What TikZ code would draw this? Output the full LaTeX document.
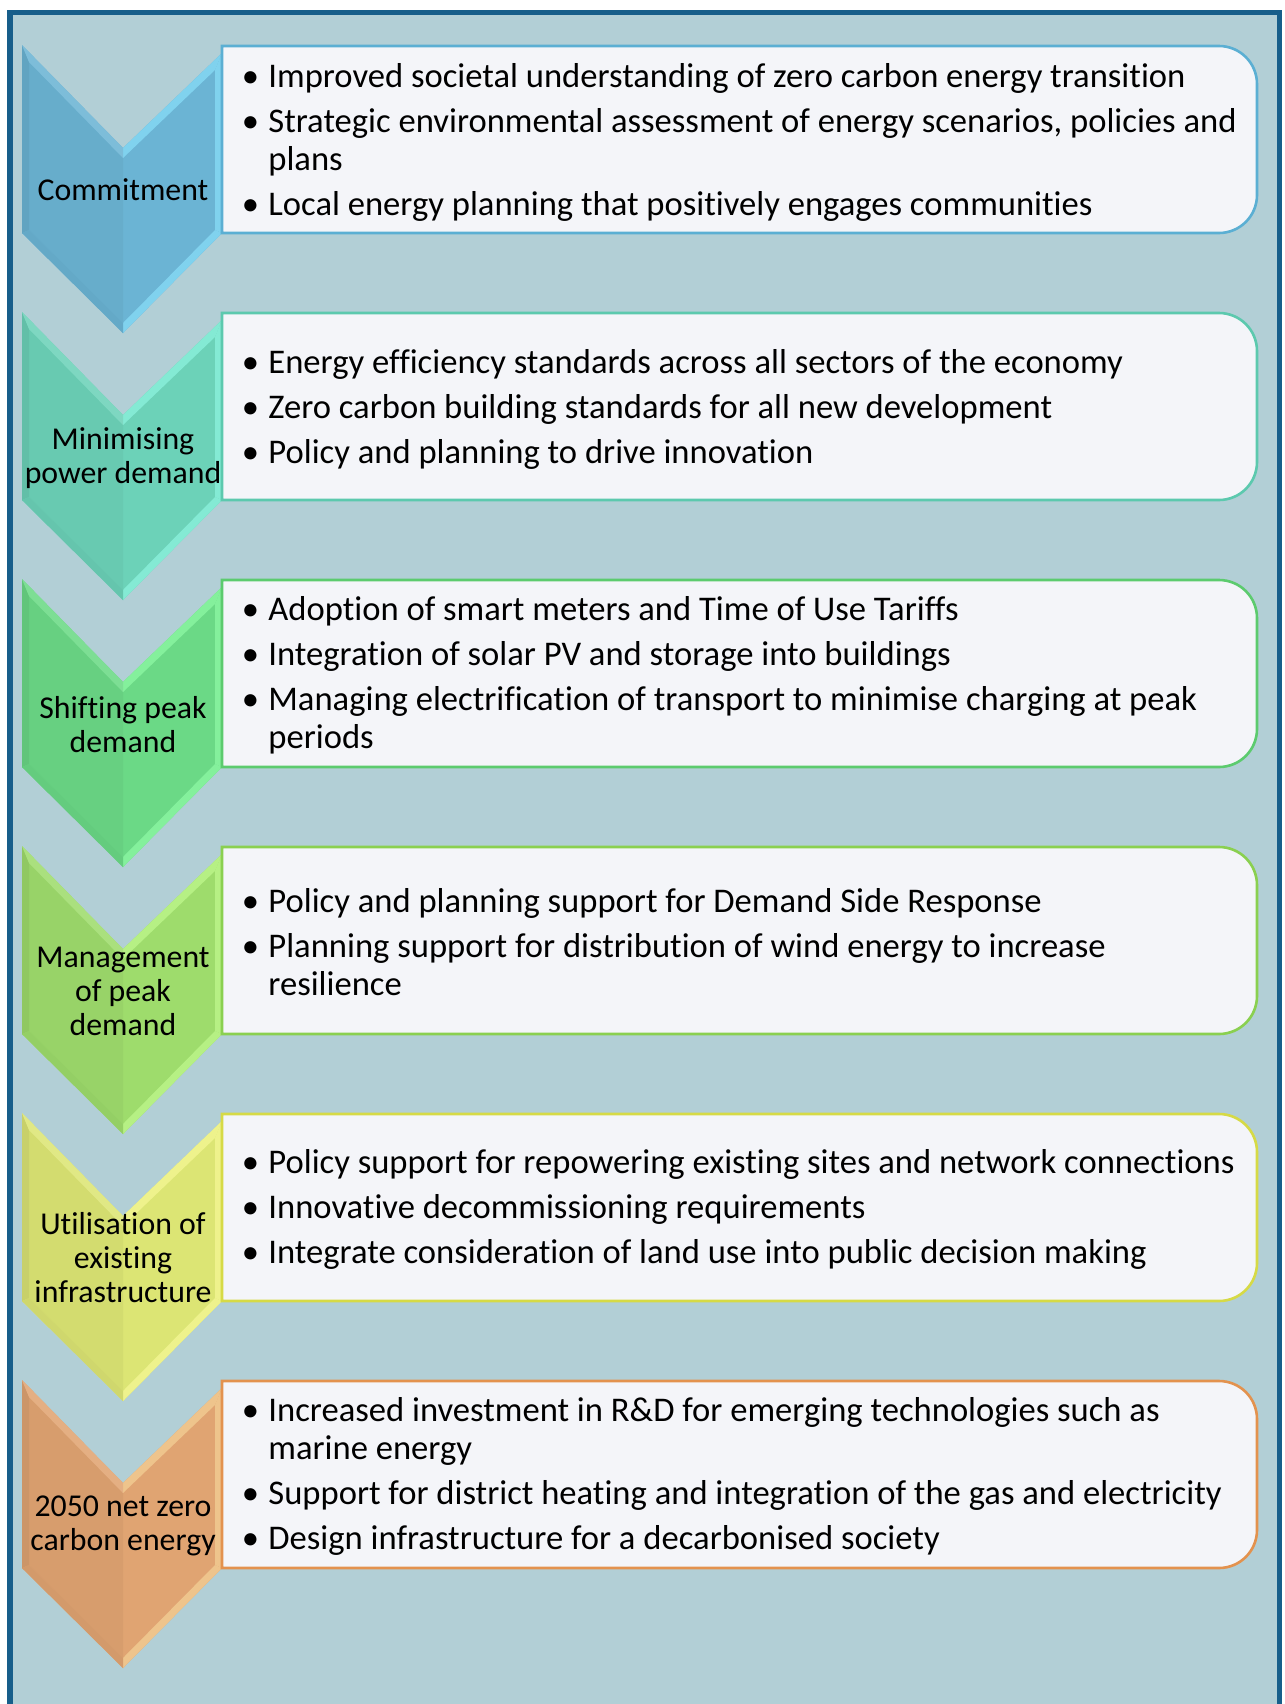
\documentclass[tikz,border=0pt]{standalone}
\usepackage{fontspec}
\setmainfont{Carlito}[Ligatures={NoCommon}]
\definecolor{framecol}{HTML}{175E8A}
\definecolor{bgcol}{HTML}{B2CFD6}
\definecolor{boxfill}{HTML}{F4F5F9}
\definecolor{mA}{HTML}{6BB4D4}\definecolor{hA}{HTML}{80D2EE}\definecolor{bA}{HTML}{5BAFD3}
\definecolor{mB}{HTML}{6CD2B8}\definecolor{hB}{HTML}{84EAD4}\definecolor{bB}{HTML}{5CC9AE}
\definecolor{mC}{HTML}{6BD986}\definecolor{hC}{HTML}{84F09C}\definecolor{bC}{HTML}{5CCB6E}
\definecolor{mD}{HTML}{9EDC6C}\definecolor{hD}{HTML}{B6F084}\definecolor{bD}{HTML}{8AD050}
\definecolor{mE}{HTML}{DCE574}\definecolor{hE}{HTML}{EEF28C}\definecolor{bE}{HTML}{D6DA46}
\definecolor{mF}{HTML}{E0A472}\definecolor{hF}{HTML}{EEC48C}\definecolor{bF}{HTML}{E3924E}
\newcommand\chevshape[3]{%
 \fill[#2] (22,#1) -- (123,#1+103) -- (222,#1+8) -- (222,#1+188) -- (123,#1+288) -- (22,#1+188) -- cycle;
 \fill[#2!96!black] (29,#1+17) -- (123,#1+113) -- (123,#1+278) -- (29,#1+185) -- cycle;
 \fill[#2!91!black] (22,#1) -- (22,#1+188) -- (29,#1+185) -- (29,#1+17) -- cycle;
 \fill[#3] (123,#1+103) -- (222,#1+8) -- (215,#1+25) -- (123,#1+113) -- cycle;
 \fill[#3] (222,#1+8) -- (222,#1+188) -- (215,#1+185) -- (215,#1+25) -- cycle;
 \fill[#3] (222,#1+188) -- (123,#1+288) -- (123,#1+278) -- (215,#1+185) -- cycle;
 \fill[#2!94!black] (123,#1+288) -- (22,#1+188) -- (29,#1+185) -- (123,#1+278) -- cycle;
 \fill[#2!88!white] (22,#1) -- (123,#1+103) -- (123,#1+113) -- (29,#1+17) -- cycle;
}
\newcommand\boxshape[2]{%
 \draw[line width=1.3pt, draw=#2, fill=boxfill] (222,#1+1) -- (700,#1+1) [rounded corners=19pt] -- (1257,#1+1) -- (1257,#1+188) -- (700,#1+188) [sharp corners] -- (222,#1+188) -- cycle;
}
\newcommand\bul{\makebox[14pt][c]{\textbullet}\hspace{2pt}}
\newcommand\ind{\hspace{16pt}}
\tikzset{
 bodytext/.style={anchor=west, inner sep=0pt, align=left, font=\fontsize{17.3}{19}\selectfont},
 labeltext/.style={anchor=center, inner sep=0pt, align=center, font=\fontsize{15.9}{17}\selectfont}
}
\begin{document}
\begin{tikzpicture}[x=0.5pt,y=-0.5pt]
\useasboundingbox (0,0) rectangle (1285,1704);
\clip (0,0) rectangle (1285,1704);
\draw[line width=2.8pt, draw=framecol, fill=bgcol] (10,12.5) rectangle (1279.5,1730);
% rows
\chevshape{45}{mA}{hA}\boxshape{45}{bA}
\chevshape{312}{mB}{hB}\boxshape{312}{bB}
\chevshape{579}{mC}{hC}\boxshape{579}{bC}
\chevshape{846}{mD}{hD}\boxshape{846}{bD}
\chevshape{1113}{mE}{hE}\boxshape{1113}{bE}
\chevshape{1380}{mF}{hF}\boxshape{1380}{bF}
% labels
\node[labeltext] (c1) at (123,190) {Commitment};
\node[labeltext] (c2) at (123,458) {Minimising\\power demand};
\node[labeltext] (c3) at (123,725) {Shifting peak\\demand};
\node[labeltext] (c4) at (123,991) {Management\\of peak\\demand};
\node[labeltext] (c5) at (123,1258) {Utilisation of\\existing\\infrastructure};
\node[labeltext] (c6) at (123,1526) {2050 net zero\\carbon energy};
% texts
\node[bodytext] (t1) at (236,142) {\bul Improved societal understanding of zero carbon energy transition\\[3.5pt]
\bul Strategic environmental assessment of energy scenarios, policies and\\
\ind plans\\[3.5pt]
\bul Local energy planning that positively engages communities};
\node[bodytext] (t2) at (236,409) {\bul Energy efficiency standards across all sectors of the economy\\[3.5pt]
\bul Zero carbon building standards for all new development\\[3.5pt]
\bul Policy and planning to drive innovation};
\node[bodytext] (t3) at (236,675.5) {\bul Adoption of smart meters and Time of Use Tariffs\\[3.5pt]
\bul Integration of solar PV and storage into buildings\\[3.5pt]
\bul Managing electrification of transport to minimise charging at peak\\
\ind periods};
\node[bodytext] (t4) at (236,942) {\bul Policy and planning support for Demand Side Response\\[3.5pt]
\bul Planning support for distribution of wind energy to increase\\
\ind resilience};
\node[bodytext] (t5) at (236,1209.5) {\bul Policy support for repowering existing sites and network connections\\[3.5pt]
\bul Innovative decommissioning requirements\\[3.5pt]
\bul Integrate consideration of land use into public decision making};
\node[bodytext] (t6) at (236,1476.5) {\bul Increased investment in R\&D for emerging technologies such as\\
\ind marine energy\\[3.5pt]
\bul Support for district heating and integration of the gas and electricity\\[3.5pt]
\bul Design infrastructure for a decarbonised society};
\end{tikzpicture}
\end{document}
